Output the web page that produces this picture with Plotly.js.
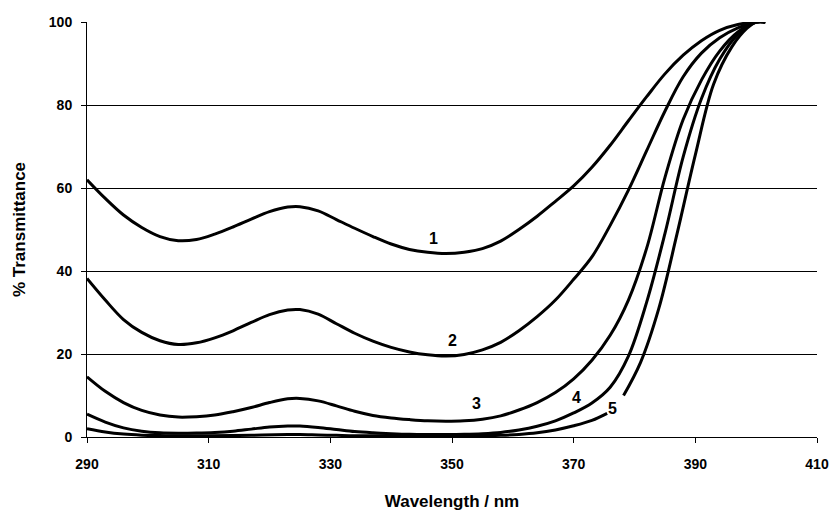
<!DOCTYPE html>
<html>
<head>
<meta charset="utf-8">
<script src="https://cdn.plot.ly/plotly-3.0.1.min.js"></script>
<style>html,body{margin:0;padding:0;background:#fff;}#chart{width:829px;height:511px;}</style>
</head>
<body>
<div id="chart"></div>
<script>
// Wavelength (nm) and % transmittance for each curve
var wl1 = [290, 293, 296, 299, 302, 305, 308, 311, 314, 317, 320, 323, 325, 328, 331, 334, 337, 340, 343, 346, 349, 352, 355, 358, 361, 364, 367, 370, 373, 376, 379, 382, 385, 388, 391, 394, 397, 400, 401.5];
var t1  = [62, 57.5, 53.5, 50.5, 48.3, 47.3, 47.6, 48.9, 50.6, 52.5, 54.3, 55.4, 55.5, 54.5, 52.4, 50.3, 48.3, 46.5, 45.2, 44.5, 44.2, 44.5, 45.4, 47.2, 50, 53.2, 56.8, 60.5, 65, 70.3, 76.2, 82, 87.5, 92, 95.5, 98, 99.4, 100, 100];

var wl2 = [290, 293, 296, 299, 302, 305, 308, 311, 314, 317, 320, 323, 325, 328, 331, 334, 337, 340, 343, 346, 349, 352, 355, 358, 361, 364, 367, 370, 373, 376, 379, 382, 385, 388, 391, 394, 397, 400, 401.5];
var t2  = [38.2, 33, 28.3, 25.2, 23.2, 22.3, 22.7, 23.9, 25.6, 27.6, 29.5, 30.6, 30.7, 29.6, 27.3, 25, 23.1, 21.6, 20.5, 19.8, 19.5, 19.9, 21, 22.8, 25.6, 29, 33, 38, 43.4, 51, 59.5, 69, 78.5, 86.8, 92.5, 96.2, 98.6, 100, 100];

var wl3 = [290, 293, 296, 299, 302, 305, 308, 311, 314, 317, 320, 323, 325, 328, 331, 334, 337, 340, 343, 346, 349, 352, 355, 358, 361, 364, 367, 370, 373, 376, 379, 382, 385, 388, 391, 394, 397, 400, 401.5];
var t3  = [14.5, 11, 8.3, 6.4, 5.3, 4.8, 4.9, 5.3, 6.1, 7.1, 8.3, 9.2, 9.3, 8.7, 7.5, 6.2, 5.2, 4.6, 4.2, 3.9, 3.8, 3.9, 4.3, 5.1, 6.5, 8.3, 10.7, 14, 18.5, 24.5, 33, 45.5, 62.5, 76.5, 86, 93, 97.6, 100, 100];

var wl4 = [290, 293, 296, 299, 302, 305, 308, 311, 314, 317, 320, 323, 325, 328, 331, 334, 337, 340, 343, 346, 349, 352, 355, 358, 361, 364, 367, 370, 373, 376, 379, 382, 385, 388, 391, 394, 397, 400, 401.5];
var t4  = [5.5, 3.6, 2.2, 1.4, 1.0, 0.9, 0.95, 1.1, 1.4, 1.9, 2.4, 2.65, 2.65, 2.3, 1.8, 1.3, 1.0, 0.8, 0.65, 0.6, 0.6, 0.65, 0.8, 1.1, 1.7, 2.6, 3.9, 5.8, 8.2, 12, 19.5, 32.5, 49, 67.5, 81.5, 91, 97, 100, 100];

var wl5 = [290, 293, 296, 299, 302, 305, 310, 317, 323, 325, 328, 331, 334, 340, 350, 355, 358, 361, 364, 367, 370, 373, 375.5, 377, 378.2, 381, 384, 387, 390, 393, 396, 398.5, 400, 401.5];
var t5  = [2.0, 1.2, 0.7, 0.45, 0.35, 0.3, 0.3, 0.4, 0.6, 0.6, 0.5, 0.4, 0.3, 0.3, 0.3, 0.3, 0.4, 0.6, 1.0, 1.7, 2.7, 4.0, 5.7, null, 10, 18, 31, 49, 68, 85, 94, 98.5, 100, 100];

var curveNames = ["1", "2", "3", "4", "5"];
var labelX = [346.9, 350.0, 354.0, 370.4, 376.4];
var labelY = [47.9, 23.3, 8.1, 9.5, 6.9];

var xTicks = [290, 310, 330, 350, 370, 390, 410];
var yTicks = [0, 20, 40, 60, 80, 100];

var wls = [wl1, wl2, wl3, wl4, wl5];
var ts = [t1, t2, t3, t4, t5];

var traces = ts.map(function (t, i) {
  return {
    x: wls[i], y: t, type: "scatter", mode: "lines", name: curveNames[i],
    connectgaps: false,
    line: {color: "#000", width: 3, shape: "spline", smoothing: 1},
    hoverinfo: "skip"
  };
});

var fam = "Liberation Sans, Arial, sans-serif";
var tickFont = {family: fam, size: 14, color: "#000", weight: "bold"};
var titleFont = {family: fam, size: 17, color: "#000", weight: "bold"};

var annotations = curveNames.map(function (n, i) {
  return {
    x: labelX[i], y: labelY[i], xref: "x", yref: "y", text: "<b>" + n + "</b>",
    showarrow: false, font: {family: fam, size: 16, color: "#000"}
  };
});

var layout = {
  width: 829, height: 511,
  margin: {l: 87, r: 12, t: 22, b: 74},
  paper_bgcolor: "#fff", plot_bgcolor: "#fff",
  showlegend: false,
  font: tickFont,
  xaxis: {
    range: [290, 410], tickmode: "array", tickvals: xTicks, ticktext: xTicks.map(String),
    showgrid: false, zeroline: false, showline: true, linecolor: "#000", linewidth: 1,
    ticks: "outside", ticklen: 5, tickcolor: "#000", tickfont: tickFont, ticklabelstandoff: 9,
    ticklabeloverflow: "allow",
    title: {text: "<b>Wavelength / nm</b>", font: titleFont, standoff: 24}
  },
  yaxis: {
    range: [0, 100], tickmode: "array", tickvals: yTicks, ticktext: yTicks.map(String),
    showgrid: true, gridcolor: "#000", gridwidth: 1, zeroline: false,
    showline: true, linecolor: "#000", linewidth: 1,
    ticks: "outside", ticklen: 5, tickcolor: "#000", tickfont: tickFont, ticklabelstandoff: 6,
    title: {text: "<b>% Transmittance</b>", font: titleFont, standoff: 18}
  },
  annotations: annotations
};

Plotly.newPlot("chart", traces, layout, {staticPlot: true, displayModeBar: false});
</script>
</body>
</html>
